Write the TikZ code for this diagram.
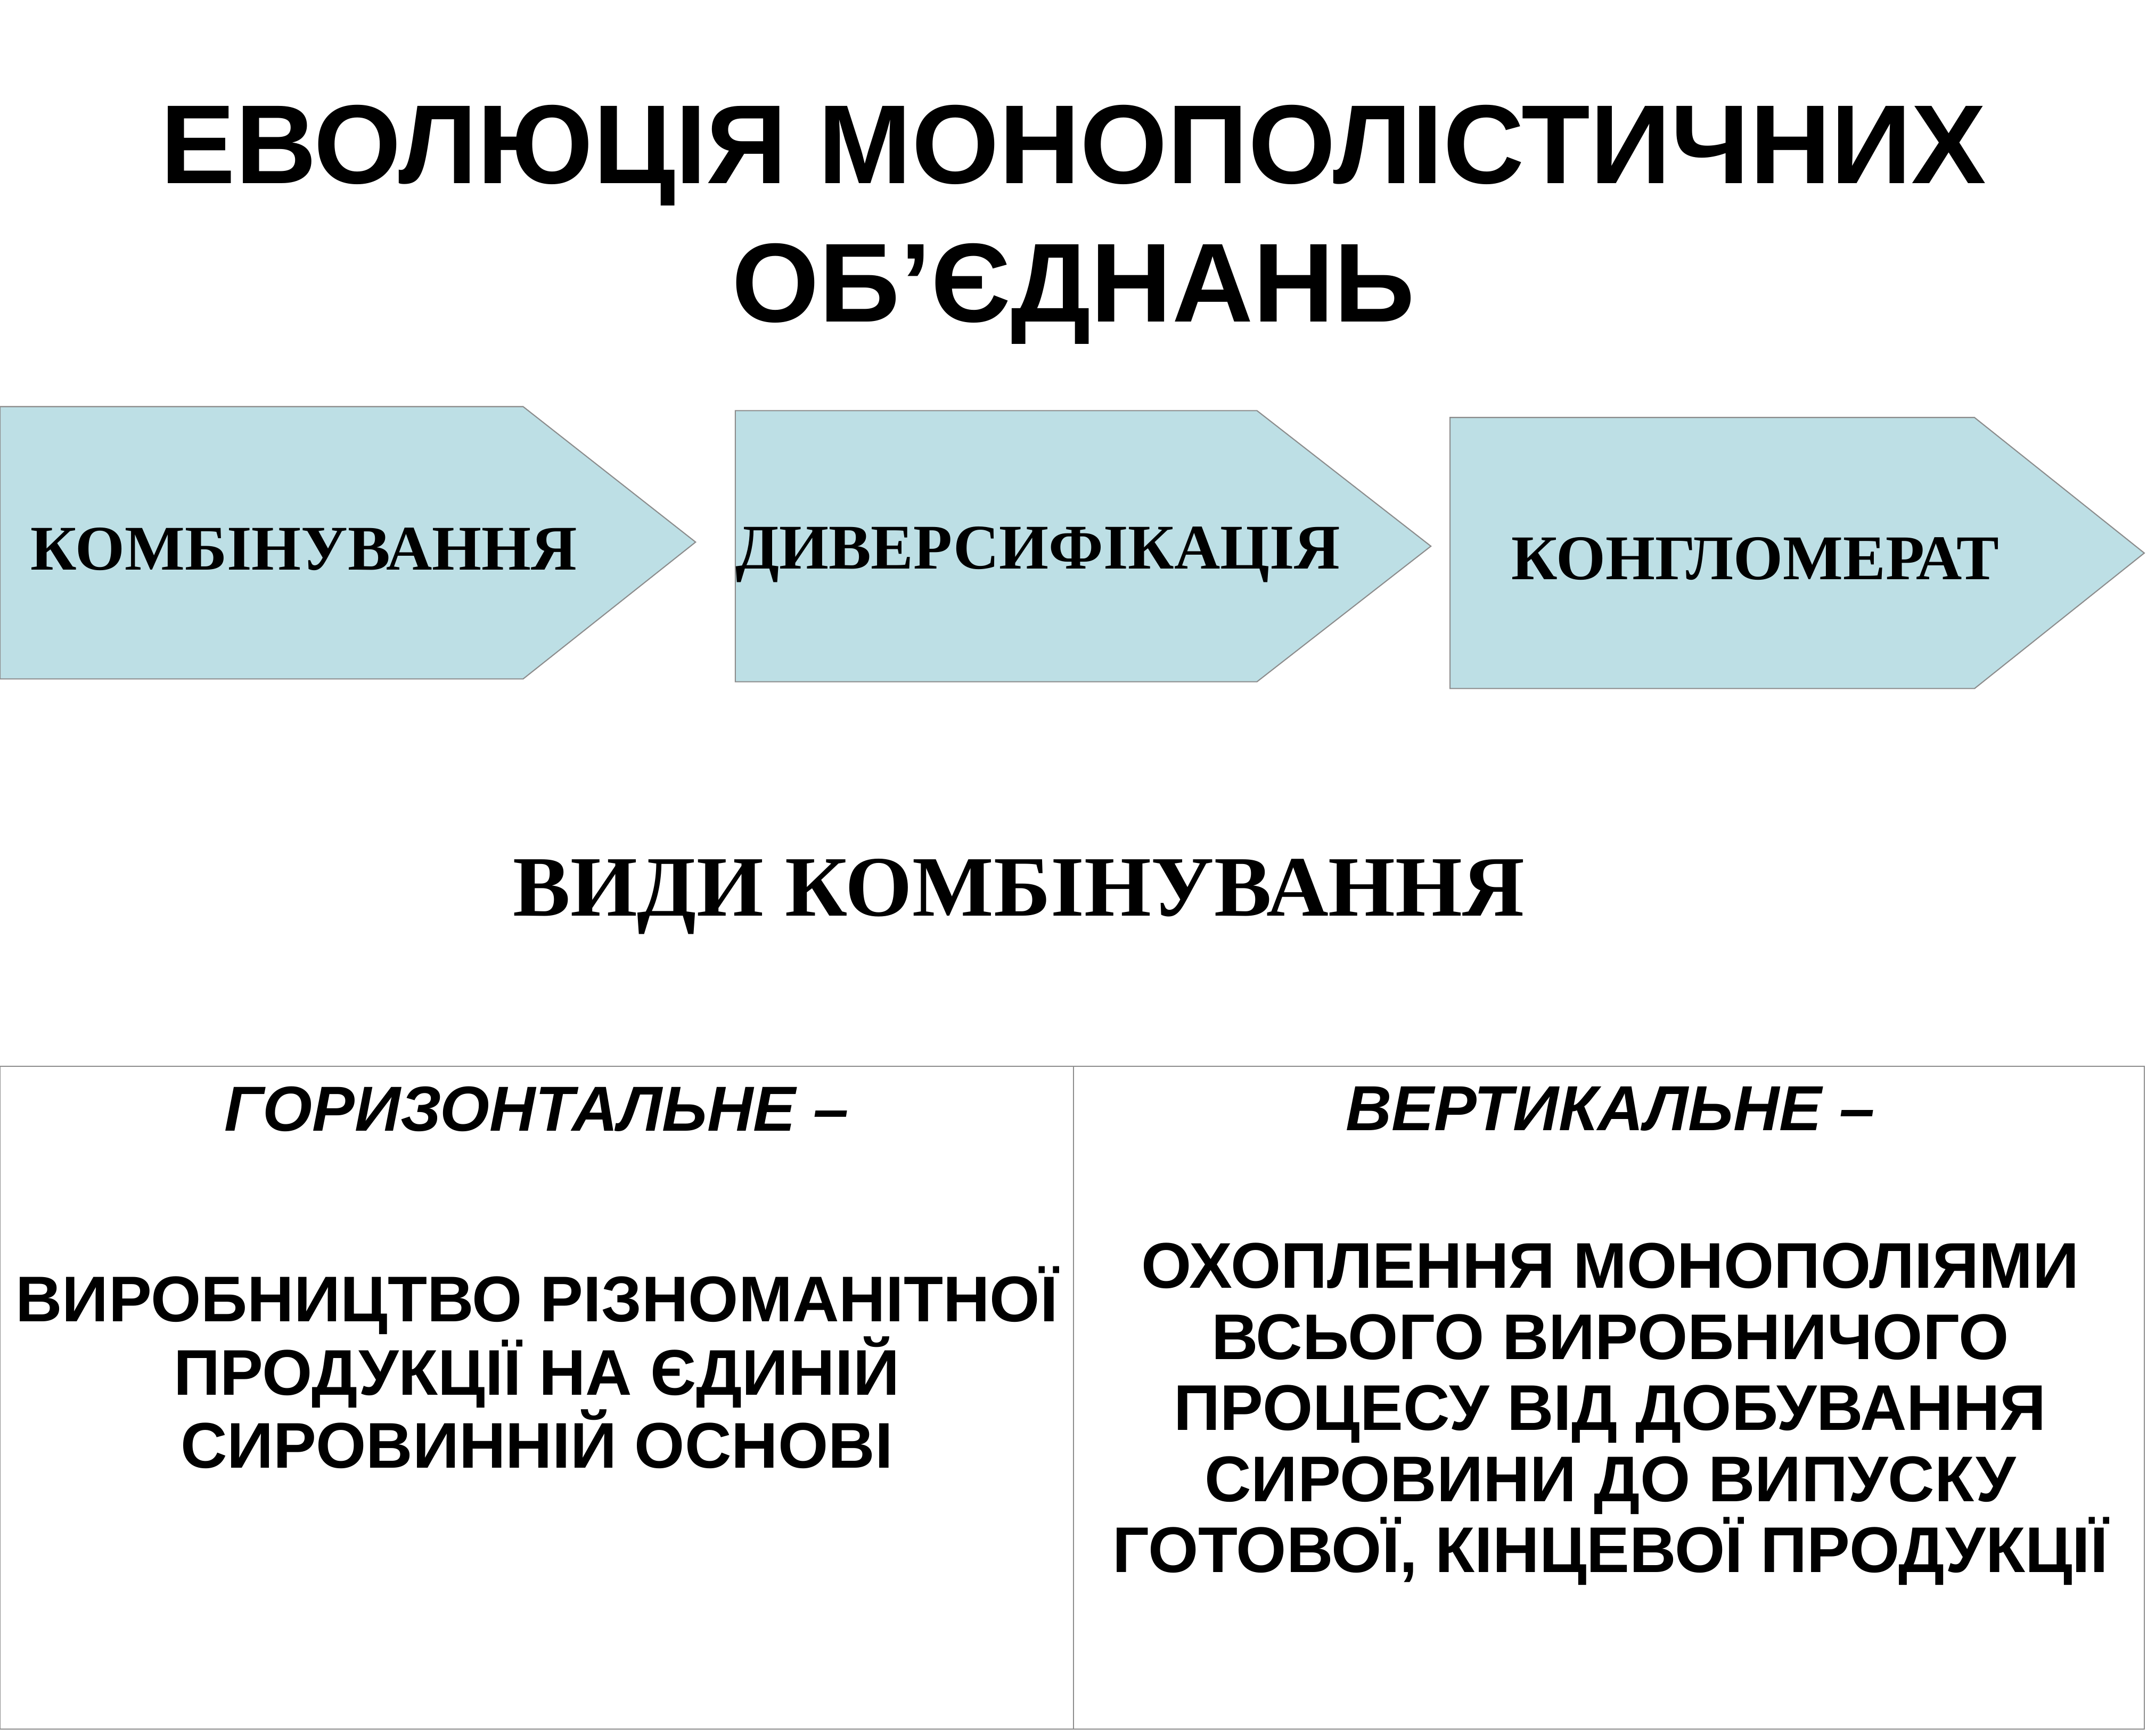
\documentclass[tikz,border=0pt]{standalone}
\usepackage{fontspec}
\setmainfont{Liberation Serif}
\setsansfont{Liberation Sans}
\definecolor{arrowfill}{HTML}{BDDFE5}
\definecolor{edge}{HTML}{8C8C8C}
\begin{document}
\begin{tikzpicture}[x=0.02571cm,y=-0.02571cm,
  chev/.style={fill=arrowfill,draw=edge,line width=0.6pt},
  chevtext/.style={font=\fontsize{34}{40}\selectfont\bfseries},
  cell/.style={draw=edge,line width=0.6pt},
  bodytext/.style={font=\sffamily\fontsize{34.5}{38}\selectfont\bfseries,align=center}]
\useasboundingbox (0,0) rectangle (1568,1268);
\node[font=\sffamily\fontsize{60}{70}\selectfont\bfseries,align=center] (title) at (784,164) {ЕВОЛЮЦІЯ МОНОПОЛІСТИЧНИХ\\[4pt]ОБ’ЄДНАНЬ};
\draw[chev] (0,297) -- (382,297) -- (508,396) -- (382,496) -- (0,496) -- cycle;
\draw[chev] (537,300) -- (918,300) -- (1045,399) -- (918,498) -- (537,498) -- cycle;
\draw[chev] (1059,305) -- (1442,305) -- (1566,404) -- (1442,503) -- (1059,503) -- cycle;
\node[chevtext] (a1) at (222,401) {КОМБІНУВАННЯ};
\node[chevtext] (a2) at (758,405) {ДИВЕРСИФІКАЦІЯ};
\node[chevtext] (a3) at (1282,408) {КОНГЛОМЕРАТ};
\node[font=\fontsize{46}{60}\selectfont\bfseries] (sub) at (744,655) {ВИДИ КОМБІНУВАННЯ};
\draw[cell] (0,779) rectangle (1566,1263);
\draw[cell] (784,779) -- (784,1263);
\node[font=\sffamily\fontsize{34}{40}\selectfont\bfseries\itshape] (h1) at (392,810) {ГОРИЗОНТАЛЬНЕ –};
\node[font=\sffamily\fontsize{34}{40}\selectfont\bfseries\itshape] (h2) at (1176,810) {ВЕРТИКАЛЬНЕ –};
\node[bodytext] (b1) at (392,999) {ВИРОБНИЦТВО РІЗНОМАНІТНОЇ\\ПРОДУКЦІЇ НА ЄДИНІЙ\\СИРОВИННІЙ ОСНОВІ};
\node[bodytext] (b2) at (1176,1033) {ОХОПЛЕННЯ МОНОПОЛІЯМИ\\ВСЬОГО ВИРОБНИЧОГО\\ПРОЦЕСУ ВІД ДОБУВАННЯ\\СИРОВИНИ ДО ВИПУСКУ\\ГОТОВОЇ, КІНЦЕВОЇ ПРОДУКЦІЇ};
\end{tikzpicture}
\end{document}
